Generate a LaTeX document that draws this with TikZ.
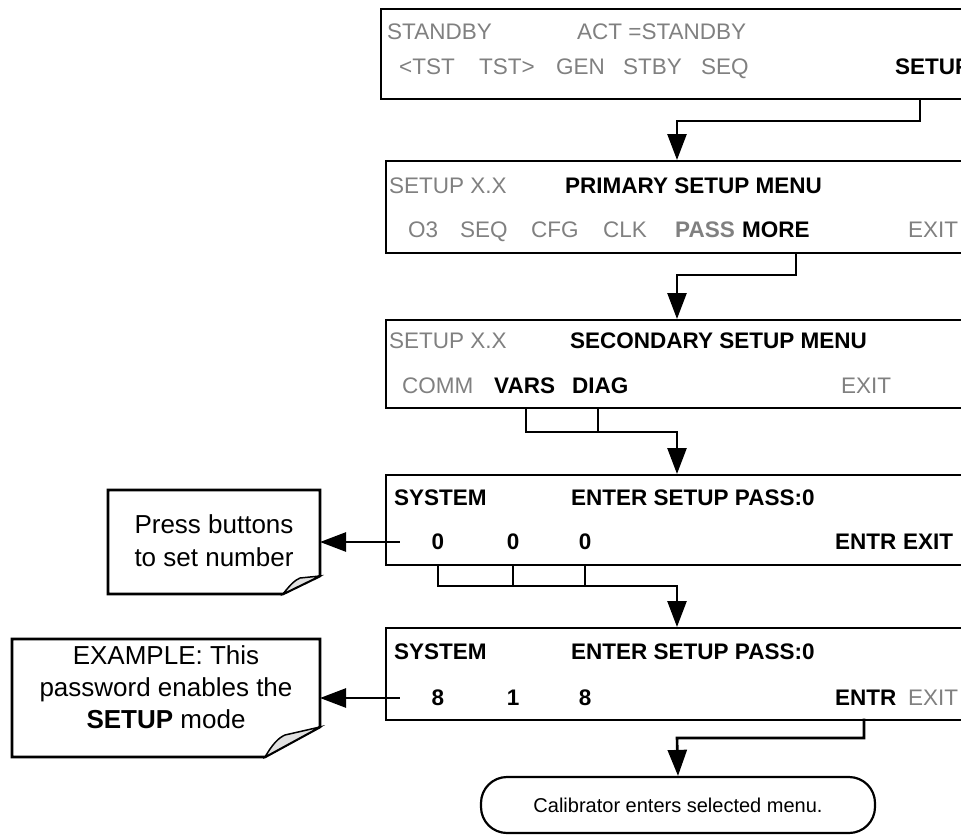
\documentclass[tikz,border=0pt]{standalone}
\usepackage{fontspec}
\setmainfont{Liberation Sans}
\usetikzlibrary{arrows.meta,calc}
\definecolor{dgray}{RGB}{128,128,128}
\definecolor{foldgray}{RGB}{225,225,225}
\begin{document}
\begin{tikzpicture}[x=1pt,y=-1pt,
  disp/.style={draw=black,line width=2.6pt,fill=white},
  lbl/.style={anchor=base west,inner sep=0pt,font=\fontsize{22.5}{27}\selectfont},
  gr/.style={lbl,text=dgray},
  bk/.style={lbl,text=black,font=\fontsize{22.5}{27}\selectfont\bfseries},
  bg/.style={lbl,text=dgray,font=\fontsize{22.5}{27}\selectfont\bfseries},
  conn/.style={line width=2.6pt,line cap=rect},
  arr/.style={conn,-{Triangle[length=26pt,width=19pt]}},
  callout/.style={draw=black,line width=2.6pt,fill=white},
  term/.style={draw=black,line width=2.2pt,rounded corners=26pt,
    font=\fontsize{20}{24}\selectfont}
]
\useasboundingbox (0,0) rectangle (961,835);
\clip (0,0) rectangle (961,835);

% display boxes
\draw[disp] (381,9) rectangle (980,99);
\node (b1) at (670,54) {};
\draw[disp] (386,161) rectangle (980,253);
\node (b2) at (670,207) {};
\draw[disp] (386,320) rectangle (980,408);
\node (b3) at (670,364) {};
\draw[disp] (386,475) rectangle (980,565);
\node (b4) at (670,520) {};
\draw[disp] (386,628) rectangle (980,720);
\node (b5) at (670,674) {};

% box 1
\node[gr] (t11) at (387,39) {STANDBY};
\node[gr] (t12) at (577,39) {ACT =STANDBY};
\node[gr] (t13) at (399,74) {<TST};
\node[gr] (t14) at (479,74) {TST>};
\node[gr] (t15) at (556,74) {GEN};
\node[gr] (t16) at (623,74) {STBY};
\node[gr] (t17) at (701,74) {SEQ};
\node[bk] (setup) at (895,74) {SETUP};

% box 2
\node[gr] (t21) at (389,193) {SETUP X.X};
\node[bk] (t22) at (565,193) {PRIMARY SETUP MENU};
\node[gr] (t23) at (408,237) {O3};
\node[gr] (t24) at (460,237) {SEQ};
\node[gr] (t25) at (531,237) {CFG};
\node[gr] (t26) at (603,237) {CLK};
\node[bg] (t27) at (675,237) {PASS};
\node[bk] (more) at (742,237) {MORE};
\node[gr] (t29) at (908,237) {EXIT};

% box 3
\node[gr] (t31) at (389,348) {SETUP X.X};
\node[bk] (t32) at (570,348) {SECONDARY SETUP MENU};
\node[gr] (t33) at (402,393) {COMM};
\node[bk] (vars) at (494,393) {VARS};
\node[bk] (diag) at (572,393) {DIAG};
\node[gr] (t36) at (841,393) {EXIT};

% box 4
\node[bk] (t41) at (394,505) {SYSTEM};
\node[bk] (t42) at (571,505) {ENTER SETUP PASS:0};
\node[bk,anchor=base] (d41) at (438,549) {0};
\node[bk,anchor=base] (d42) at (513,549) {0};
\node[bk,anchor=base] (d43) at (585,549) {0};
\node[bk] (t44) at (835,549) {ENTR};
\node[bk] (t45) at (903,549) {EXIT};

% box 5
\node[bk] (t51) at (394,659) {SYSTEM};
\node[bk] (t52) at (571,659) {ENTER SETUP PASS:0};
\node[bk,anchor=base] (d51) at (438,705) {8};
\node[bk,anchor=base] (d52) at (513,705) {1};
\node[bk,anchor=base] (d53) at (585,705) {8};
\node[bk] (entr) at (835,705) {ENTR};
\node[gr] (t55) at (908,705) {EXIT};

% callouts
\draw[callout] (108,490) -- (320,490) -- (320,576) -- (283,594) -- (108,594) -- cycle;
\draw[line width=1.5pt,fill=foldgray] (320,576) -- (283,594) .. controls (290,585) and (295,580) .. (300,578) -- cycle;
\node[font=\fontsize{26}{33}\selectfont,align=center] (c1) at (214,541) {Press buttons\\to set number};
\coordinate (c1e) at (320,542);

\draw[callout] (12,639) -- (320,639) -- (320,727) -- (265,757) -- (12,757) -- cycle;
\draw[line width=1.5pt,fill=foldgray] (320,727) -- (265,757) .. controls (272,745) and (278,738) .. (285,735) -- cycle;
\node[font=\fontsize{26}{32}\selectfont,align=center] (c2) at (166,687) {EXAMPLE: This\\password enables the\\\textbf{SETUP} mode};
\coordinate (c2e) at (320,698);

% terminal
\node[term,minimum width=394pt,minimum height=56pt] (end) at (678,805) {Calibrator enters selected menu.};

% connectors
\coordinate (k1) at (920,99);
\draw[arr] (k1) -- (920,121) -- (677,121) -- (677,160);
\coordinate (k2) at (796,253);
\draw[arr] (k2) -- (796,275) -- (677,275) -- (677,319);
\coordinate (k3a) at (526,408);
\coordinate (k3b) at (598,408);
\draw[conn] (k3b) -- (598,432);
\draw[arr] (k3a) -- (526,432) -- (677,432) -- (677,474);
\coordinate (k4a) at (438,565);
\coordinate (k4b) at (513,565);
\coordinate (k4c) at (585,565);
\draw[conn] (k4b) -- (513,586);
\draw[conn] (k4c) -- (585,586);
\draw[arr] (k4a) -- (438,586) -- (677,586) -- (677,627);
\coordinate (k5) at (864,720);
\draw[arr] (k5) -- (864,738) -- (677,738) -- (end.north);
\coordinate (s1) at (399,542);
\draw[arr] (s1) -- (c1e);
\coordinate (s2) at (399,698);
\draw[arr] (s2) -- (c2e);
\end{tikzpicture}
\end{document}
